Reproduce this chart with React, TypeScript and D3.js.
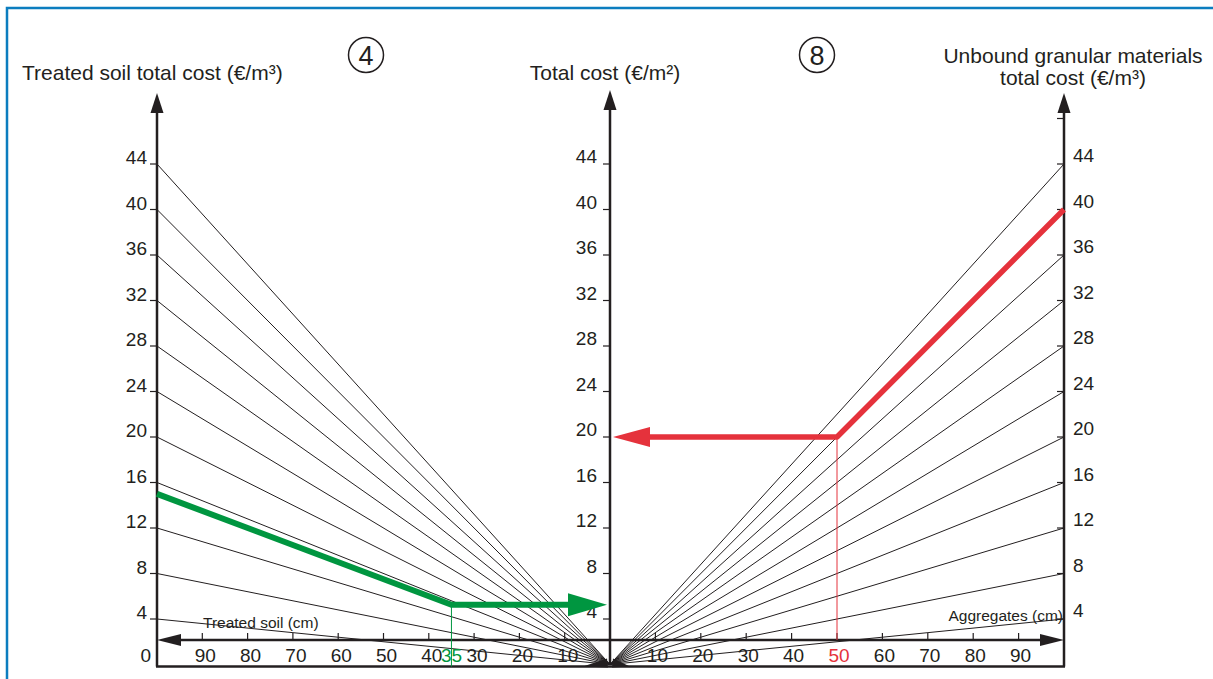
import React from "react";
import * as d3 from "d3";

// ---- data ----
const fanCosts = [4, 8, 12, 16, 20, 24, 28, 32, 36, 40, 44]; // €/m³ guide lines
const costTicks = [4, 8, 12, 16, 20, 24, 28, 32, 36, 40, 44];
const rightExtraTicks = [48];
const thicknessTicks = [10, 20, 30, 40, 50, 60, 70, 80, 90];
const treatedSoil = { cost: 15, thickness: 35 }; // step 4
const aggregates = { cost: 40, thickness: 50 }; // step 8

const INK = "#231f20";
const GREEN = "#009640";
const RED = "#e5323c";
const BLUE = "#0b7dbf";
const FONT = "'Liberation Sans', Arial, Helvetica, sans-serif";

export default function App() {
  const W = 1213, H = 679;
  const y = d3.scaleLinear().domain([0, 44]).range([664.5, 164]);
  const xL = d3.scaleLinear().domain([0, 100]).range([610, 157]);
  const xR = d3.scaleLinear().domain([0, 100]).range([610, 1064]);
  const total = (c: number, t: number) => (c * t) / 100;
  const line = d3.line<[number, number]>();
  const axisY = 640;
  const bottomY = y(0) + 2;
  const cx = xL(0);
  const tipY = 93;
  const TF = 21; // title font
  const LF = 19; // tick label font

  const gTot = total(treatedSoil.cost, treatedSoil.thickness);
  const rTot = total(aggregates.cost, aggregates.thickness);

  const vArrow = (x: number, tip: number) =>
    `${x},${tip} ${x - 6.5},${tip + 20} ${x + 6.5},${tip + 20}`;

  return (
    <svg width={W} height={H} style={{ position: "fixed", left: 0, top: 0, background: "#fff" }} fontFamily={FONT}>
      {/* frame */}
      <rect x={7} y={8} width={W + 20} height={H + 20} fill="none" stroke={BLUE} strokeWidth={2.5} />

      {/* titles */}
      <text x={22} y={80} fontSize={TF} fill={INK}>Treated soil total cost (€/m³)</text>
      <text x={605} y={80} fontSize={TF} fill={INK} textAnchor="middle">Total cost (€/m²)</text>
      <text x={1073} y={63} fontSize={TF} fill={INK} textAnchor="middle">Unbound granular materials</text>
      <text x={1073} y={85} fontSize={TF} fill={INK} textAnchor="middle">total cost (€/m³)</text>
      {[{ cxp: 366, n: "4" }, { cxp: 817, n: "8" }].map((c) => (
        <g key={c.n}>
          <circle cx={c.cxp} cy={55} r={17.5} fill="none" stroke={INK} strokeWidth={1.5} />
          <text x={c.cxp} y={65} fontSize={27} fill={INK} textAnchor="middle">{c.n}</text>
        </g>
      ))}

      {/* fan lines */}
      {fanCosts.map((c) => (
        <path key={"l" + c} d={line([[xL(100), y(c)], [cx, y(0)]]) || ""} stroke={INK} strokeWidth={1} fill="none" />
      ))}
      {fanCosts.map((c) => (
        <path key={"r" + c} d={line([[xR(100), y(c)], [cx, y(0)]]) || ""} stroke={INK} strokeWidth={1} fill="none" />
      ))}
      <polygon points={`${cx - 27},${bottomY} ${cx - 3},${bottomY - 8} ${cx - 2},${bottomY + 1}`} fill={INK} />
      <polygon points={`${cx + 20},${bottomY} ${cx + 3},${bottomY - 8} ${cx + 2},${bottomY + 1}`} fill={INK} />

      {/* vertical axes */}
      {[xL(100), cx, xR(100)].map((x, i) => (
        <g key={"ax" + i}>
          <line x1={x} x2={x} y1={i === 1 ? y(0) : bottomY} y2={(i === 1 ? 90 : tipY) + 15} stroke={INK} strokeWidth={2.5} />
          <polygon points={vArrow(x, i === 1 ? 90 : tipY)} fill={INK} />
        </g>
      ))}
      {/* bottom line */}
      <line x1={xL(100) - 1} x2={xR(100) + 1} y1={bottomY} y2={bottomY} stroke={INK} strokeWidth={2.5} />

      {/* horizontal thickness axis */}
      <line x1={xL(100) + 15} x2={xR(100) - 15} y1={axisY} y2={axisY} stroke={INK} strokeWidth={2.5} />
      <polygon points={`${xL(100)},${axisY} ${xL(100) + 24},${axisY - 6} ${xL(100) + 24},${axisY + 6}`} fill={INK} />
      <polygon points={`${xR(100)},${axisY} ${xR(100) - 24},${axisY - 6} ${xR(100) - 24},${axisY + 6}`} fill={INK} />
      {thicknessTicks.map((t) => (
        <g key={"t" + t}>
          <line x1={xL(t)} x2={xL(t)} y1={axisY} y2={axisY - 7} stroke={INK} strokeWidth={1.2} />
          <line x1={xR(t)} x2={xR(t)} y1={axisY} y2={axisY - 7} stroke={INK} strokeWidth={1.2} />
          <text x={xL(t) + 3} y={662} fontSize={LF} fill={INK} textAnchor="middle">{t}</text>
          <text x={xR(t) + 2} y={662} fontSize={LF} fill={t === aggregates.thickness ? RED : INK} textAnchor="middle">{t}</text>
        </g>
      ))}
      <text x={xL(treatedSoil.thickness)} y={662} fontSize={LF} fill={GREEN} textAnchor="middle">{treatedSoil.thickness}</text>
      <text x={203} y={628} fontSize={15.5} fill={INK}>Treated soil (cm)</text>
      <text x={1063} y={621} fontSize={15.5} fill={INK} textAnchor="end">Aggregates (cm)</text>

      {/* cost ticks */}
      {costTicks.map((c) => (
        <g key={"c" + c}>
          <line x1={xL(100) - 7} x2={xL(100)} y1={y(c)} y2={y(c)} stroke={INK} strokeWidth={1.2} />
          <text x={147} y={y(c)} fontSize={LF} fill={INK} textAnchor="end">{c}</text>
          <line x1={cx - 7} x2={cx} y1={y(c)} y2={y(c)} stroke={INK} strokeWidth={1.2} />
          <text x={597} y={y(c) - 1} fontSize={LF} fill={INK} textAnchor="end">{c}</text>
          <line x1={xR(100) - 7} x2={xR(100)} y1={y(c)} y2={y(c)} stroke={INK} strokeWidth={1.2} />
          <text x={1073} y={y(c) - 2} fontSize={LF} fill={INK}>{c}</text>
        </g>
      ))}
      {rightExtraTicks.map((c) => (
        <line key={"e" + c} x1={xR(100) - 7} x2={xR(100)} y1={y(c)} y2={y(c)} stroke={INK} strokeWidth={1.2} />
      ))}
      <text x={151} y={662} fontSize={LF} fill={INK} textAnchor="end">0</text>

      {/* green example (treated soil) */}
      <line x1={xL(treatedSoil.thickness)} x2={xL(treatedSoil.thickness)} y1={y(gTot)} y2={bottomY} stroke={GREEN} strokeWidth={1} />
      <path d={line([[xL(100), y(treatedSoil.cost)], [xL(treatedSoil.thickness), y(gTot)], [cx - 40, y(gTot)]]) || ""}
        stroke={GREEN} strokeWidth={6} fill="none" strokeLinejoin="round" />
      <polygon points={`${cx - 3},${y(gTot)} ${cx - 42},${y(gTot) - 11.5} ${cx - 42},${y(gTot) + 11.5}`} fill={GREEN} />

      {/* red example (aggregates) */}
      <line x1={xR(aggregates.thickness)} x2={xR(aggregates.thickness)} y1={y(rTot)} y2={axisY} stroke={RED} strokeWidth={1} />
      <path d={line([[xR(100), y(aggregates.cost)], [xR(aggregates.thickness), y(rTot)], [cx + 38, y(rTot)]]) || ""}
        stroke={RED} strokeWidth={5.5} fill="none" strokeLinejoin="round" />
      <polygon points={`${cx + 3},${y(rTot)} ${cx + 40},${y(rTot) - 10} ${cx + 40},${y(rTot) + 10}`} fill={RED} />
    </svg>
  );
}
